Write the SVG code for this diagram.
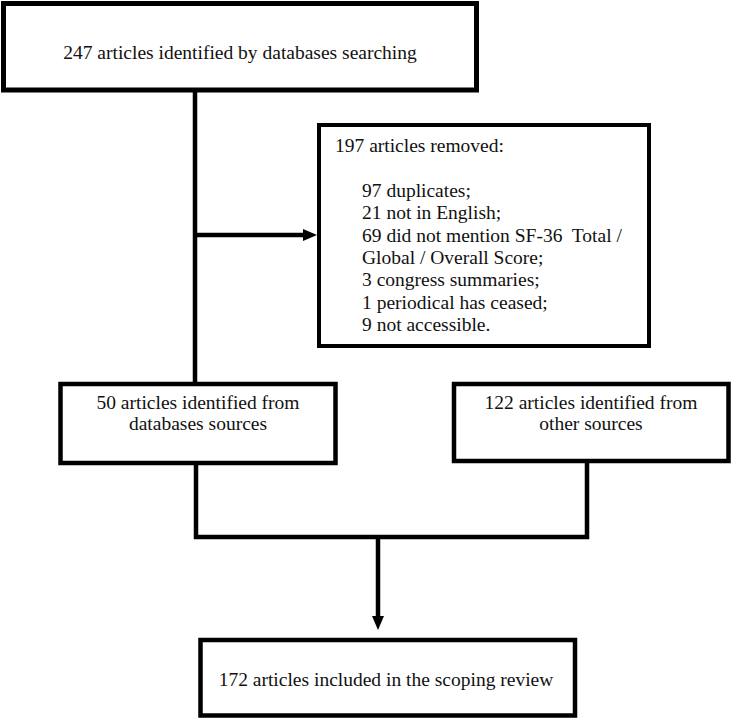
<svg xmlns="http://www.w3.org/2000/svg" width="732" height="719" viewBox="0 0 732 719">
<style>
.box{fill:#fff;stroke:#000;stroke-width:4.5}
.t{font-size:19.5px;fill:#111;white-space:pre}
.c{text-anchor:middle}
.conn{fill:none;stroke:#000;stroke-width:4.5}
</style>
<defs>
<marker id="ah" viewBox="0 0 14 12" markerWidth="14" markerHeight="12" refX="2" refY="6" orient="auto" markerUnits="userSpaceOnUse">
<path d="M0,0 L14,6 L0,12 z" fill="#000"/>
</marker>
</defs>
<rect width="732" height="719" fill="#fff"/>
<g id="connectors">
<line class="conn" x1="195" y1="90" x2="195" y2="384"/>
<line class="conn" x1="195" y1="235" x2="305" y2="235" marker-end="url(#ah)"/>
<polyline class="conn" points="196,463 196,537 587,537 587,461"/>
<line class="conn" x1="378" y1="537" x2="378" y2="618" marker-end="url(#ah)"/>
</g>
<g font-family="Liberation Serif, Times New Roman, serif">
<g id="n-search">
<rect class="box" x="3.5" y="3.5" width="473" height="86.5" style="stroke-width:5"/>
<text class="t c" x="240" y="59">247 articles identified by databases searching</text>
</g>
<g id="n-removed">
<rect class="box" x="319" y="125" width="330" height="221" style="stroke-width:4"/>
<text class="t" x="335" y="152">197 articles removed:</text>
<text class="t" x="362" y="197">97 duplicates;</text>
<text class="t" x="362" y="219.3">21 not in English;</text>
<text class="t" x="362" y="241.6">69 did not mention SF-36  Total /</text>
<text class="t" x="362" y="263.9">Global / Overall Score;</text>
<text class="t" x="362" y="286.2">3 congress summaries;</text>
<text class="t" x="362" y="308.5">1 periodical has ceased;</text>
<text class="t" x="362" y="330.8">9 not accessible.</text>
</g>
<g id="n-db">
<rect class="box" x="60.5" y="384" width="275" height="79"/>
<text class="t c" x="198" y="409">50 articles identified from</text>
<text class="t c" x="198" y="430">databases sources</text>
</g>
<g id="n-other">
<rect class="box" x="454" y="384" width="274.5" height="77"/>
<text class="t c" x="591" y="409">122 articles identified from</text>
<text class="t c" x="591" y="430">other sources</text>
</g>
<g id="n-included">
<rect class="box" x="200.5" y="640" width="374.5" height="75.5"/>
<text class="t c" x="386" y="686">172 articles included in the scoping review</text>
</g>
</g>
</svg>
